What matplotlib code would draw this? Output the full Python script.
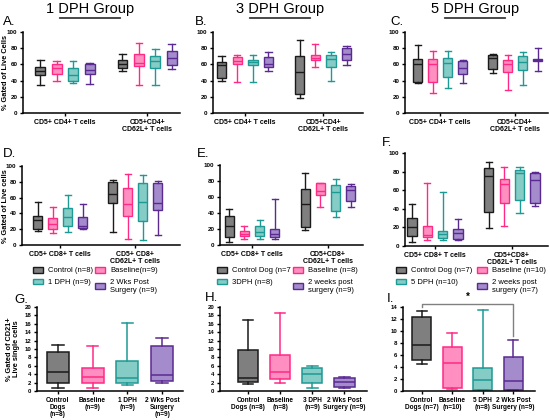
import matplotlib
matplotlib.use('Agg')
import matplotlib.pyplot as plt
from matplotlib.patches import Patch

plt.rcParams['font.family'] = ['Liberation Sans', 'DejaVu Sans']

# ---------------- data: [whisker low, Q1, median, Q3, whisker high] ----------------
groups = ['Control', 'Baseline', 'DPH', '2 Wks Post Surgery']

A_cd4 = [[34, 47, 52, 57, 65], [40, 48, 56, 61, 64], [37, 40, 47, 56, 64], [36, 48, 53, 61, 62]]
A_cd62 = [[52, 56, 61, 66, 73], [35, 58, 62, 73, 86], [35, 56, 64, 70, 79], [54, 59, 68, 76, 85]]
B_cd4 = [[39, 43, 59, 63, 70], [38, 60, 64, 69, 71], [38, 59, 63, 66, 72], [52, 57, 61, 69, 75]]
B_cd62 = [[19, 23, 51, 70, 90], [57, 65, 68, 72, 85], [39, 57, 67, 72, 75], [59, 66, 73, 80, 83]]
C_cd4 = [[37, 38, 60, 67, 84], [25, 38, 61, 67, 77], [31, 44, 62, 68, 77], [37, 48, 55, 64, 66]]
C_cd62 = [[50, 54, 68, 71, 73], [29, 51, 61, 65, 72], [35, 53, 63, 70, 75], [52, 64, 65, 67, 80]]
D_cd8 = [[18, 20, 32, 37, 55], [15, 20, 26, 34, 48], [17, 24, 35, 47, 63], [20, 21, 24, 36, 52]]
D_cd62 = [[16, 53, 65, 80, 82], [8, 37, 52, 72, 90], [6, 31, 55, 78, 89], [13, 44, 53, 78, 81]]
E_cd8 = [[4, 10, 24, 36, 45], [7, 11, 14, 18, 24], [7, 11, 16, 24, 31], [7, 10, 14, 20, 57]]
E_cd62 = [[19, 22, 51, 70, 90], [47, 62, 67, 77, 78], [35, 43, 66, 75, 83], [48, 55, 69, 74, 76]]
F_cd8 = [[4, 11, 20, 30, 45], [6, 10, 12, 21, 68], [6, 9, 13, 16, 58], [6, 8, 14, 18, 29]]
F_cd62 = [[19, 37, 75, 84, 90], [22, 46, 67, 72, 85], [36, 50, 79, 82, 85], [43, 46, 71, 79, 80]]
G_cd21 = [[0.8, 2.0, 4.5, 9.2, 11.0], [0.8, 1.8, 3.3, 5.4, 10.7], [1.4, 2.0, 3.0, 7.1, 16.1], [1.8, 2.4, 3.9, 10.6, 12.6]]
H_cd21 = [[1.7, 2.2, 3.0, 9.8, 16.8], [2.0, 2.8, 4.5, 8.5, 18.5], [0.6, 1.9, 4.0, 5.5, 5.9], [0.8, 0.9, 2.2, 3.1, 3.4]]
I_cd21 = [[4.5, 5.2, 7.7, 12.4, 13.3], [0.4, 0.5, 4.7, 7.3, 9.75], [0.1, 0.1, 1.8, 3.8, 13.5], [0.1, 0.1, 1.6, 5.7, 8.5]]

cat_cd4 = ['CD5+ CD4+ T cells', 'CD5+CD4+\nCD62L+ T cells']
cat_cd8_D = ['CD5+ CD8+ T cells', 'CD5+ CD8+\nCD62L+ T cells']
cat_cd8 = ['CD5+ CD8+ T cells', 'CD5+CD8+\nCD62L+ T cells']
G_labels = ['Control\nDogs\n(n=8)', 'Baseline\n(n=9)', '1 DPH\n(n=9)', '2 Wks Post\nSurgery\n(n=9)']
H_labels = ['Control\nDogs (n=8)', 'Baseline\n(n=8)', '3 DPH\n(n=9)', '2 Wks Post\nSurgery (n=9)']
I_labels = ['Control\nDogs (n=7)', 'Baseline\n(n=10)', '5 DPH\n(n=8)', '2 Wks Post\nSurgery (n=9)']

D_legend = ['Control (n=8)', 'Baseline(n=9)', '1 DPH (n=9)', '2 Wks Post\nSurgery (n=9)']
E_legend = ['Control Dog (n=7', 'Baseline (n=8)', '3DPH (n=8)', '2 weeks post\nsurgery (n=9)']
F_legend = ['Control Dog (n=7)', 'Baseline (n=10)', '5 DPH (n=10)', '2 weeks post\nsurgery (n=7)']

titles = ['1 DPH Group', '3 DPH Group', '5 DPH Group']

edge = ['#1a1a1a', '#ff2a86', '#1e9a94', '#5b2a90']
fill = ['#7f7f7f', '#ff8fc0', '#85cbc6', '#a48bcb']

W, H = 550, 420
fig = plt.figure(figsize=(5.5, 4.2), dpi=100)


def ax_px(l, r, t, b):
    return fig.add_axes([l / W, 1 - b / H, (r - l) / W, (b - t) / H])


def draw_box(ax, s, pos, c, width, capw, lw=1.0):
    st = dict(whislo=s[0], q1=s[1], med=s[2], q3=s[3], whishi=s[4], fliers=[])
    ax.bxp([st], positions=[pos], widths=width, capwidths=capw, patch_artist=True,
           showfliers=False, manage_ticks=False,
           boxprops=dict(facecolor=fill[c], edgecolor=edge[c], linewidth=lw),
           medianprops=dict(color=edge[c], linewidth=lw),
           whiskerprops=dict(color=edge[c], linewidth=lw),
           capprops=dict(color=edge[c], linewidth=lw))


def style(ax, ylim, yticks, ylabsize=4.5):
    ax.set_ylim(*ylim)
    ax.set_yticks(yticks, labels=[str(v) for v in yticks], fontsize=ylabsize, fontweight='bold')
    for s in ['top', 'right']:
        ax.spines[s].set_visible(False)
    for s in ['left', 'bottom']:
        ax.spines[s].set_linewidth(1.1)
    ax.tick_params(axis='both', width=1.0, length=2.5, pad=1.5)


offsets = [-0.3, -0.1, 0.1, 0.3]


def grouped_panel(rect, xlim, data1, data2, cats):
    ax = ax_px(*rect)
    for gi, data in enumerate([data1, data2]):
        for c, s in enumerate(data):
            draw_box(ax, s, gi + 1 + offsets[c], c, 0.12, 0.08)
    style(ax, (0, 100), [0, 20, 40, 60, 80, 100])
    ax.set_xlim(*xlim)
    ax.set_xticks([1, 2], labels=cats, fontsize=5, fontweight='bold', linespacing=1.1)
    return ax


axA = grouped_panel((23, 180, 32, 113), (0.49, 2.40), A_cd4, A_cd62, cat_cd4)
axB = grouped_panel((213, 363, 32, 113), (0.59, 2.51), B_cd4, B_cd62, cat_cd4)
axC = grouped_panel((405, 548, 32, 113), (0.53, 2.44), C_cd4, C_cd62, cat_cd4)
axD = grouped_panel((22, 180, 166, 245), (0.49, 2.6), D_cd8, D_cd62, cat_cd8_D)
axE = grouped_panel((220, 363, 165, 245), (0.58, 2.46), E_cd8, E_cd62, cat_cd8)
axF = grouped_panel((405, 548, 153, 246), (0.61, 2.47), F_cd8, F_cd62, cat_cd8)


def single_panel(rect, xlim, data, labels, ylim, yticks):
    ax = ax_px(*rect)
    for c, s in enumerate(data):
        draw_box(ax, s, c + 1, c, 0.63, 0.33, lw=1.1)
    style(ax, ylim, yticks, ylabsize=4.3)
    ax.set_xlim(*xlim)
    ax.set_xticks([1, 2, 3, 4], labels=labels, fontsize=4.7, fontweight='bold', linespacing=1.05)
    return ax


axG = single_panel((37, 183, 307, 391), (0.4, 4.6), G_cd21, G_labels, (0, 20), list(range(0, 21, 2)))
axH = single_panel((220, 367, 307, 391), (0.13, 4.7), H_cd21, H_labels, (0, 20), list(range(0, 21, 2)))
axI = single_panel((403, 535, 307, 391), (0.38, 4.72), I_cd21, I_labels, (0, 14), list(range(0, 15, 2)))

# significance bracket in I (Control vs 2 Wks)
top = max(I_cd21[0][4], I_cd21[3][4]) + 1.2
axI.plot([1, 1, 4, 4], [I_cd21[0][4] + 0.7, top, top, I_cd21[3][4] + 0.7],
         color='#808080', lw=1.0, clip_on=False)
axI.text(2.5, top + 0.3, '*', ha='center', va='bottom', fontsize=7, fontweight='bold', clip_on=False)


# y labels
def ylab(x, t, b, text, size=5.3):
    fig.text(x / W, 1 - (t + b) / 2 / H, text, rotation=90, ha='center', va='center',
             fontsize=size, fontweight='bold', linespacing=1.1)


ylab(6, 32, 113, '% Gated of Live Cells')
ylab(6, 168, 245, '% Gated of Live cells')
ylab(13, 307, 391, '% Gated of CD21+\nLive single cells')

# titles, underlined by drawing a segment under each title from the top-row axes
TITLE_SIZE = 10.5
for ax, cx, txt in zip([axA, axB, axC], [90, 280, 475], titles):
    fig.text(cx / W, 1 - 9 / H, txt, fontsize=TITLE_SIZE, ha='center', va='center')
    half = 0.38 * TITLE_SIZE * len(txt) * fig.dpi / 72 / 2
    ax.annotate('', xy=(cx + half, H - 18), xytext=(cx - half, H - 18),
                xycoords='figure pixels', textcoords='figure pixels',
                arrowprops=dict(arrowstyle='-', color='black', lw=1.0,
                                shrinkA=0, shrinkB=0),
                annotation_clip=False)

# panel letters
for x, y, L in [(3, 22, 'A.'), (195, 22, 'B.'), (390, 22, 'C.'),
                (3, 154, 'D.'), (197, 154, 'E.'), (382, 143, 'F.'),
                (14, 300, 'G.'), (205, 298, 'H.'), (387, 299, 'I.')]:
    fig.text(x / W, 1 - y / H, L, fontsize=9.5, ha='left', va='center')


# legends
def handle(c):
    return Patch(facecolor=fill[c], edgecolor=edge[c], linewidth=1.0)


def legend_col(x, y, labels, cols):
    fig.legend(handles=[handle(c) for c in cols], labels=labels, loc='upper left',
               bbox_to_anchor=(x / W, 1 - y / H), frameon=False, fontsize=5.5,
               handlelength=1.25, handleheight=0.75, handletextpad=0.7,
               labelspacing=0.55, borderpad=0, borderaxespad=0)


for (x1, x2, labs) in [(33, 95, D_legend), (217, 293, E_legend), (396, 477, F_legend)]:
    legend_col(x1, 267, [labs[0], labs[2]], [0, 2])
    legend_col(x2, 267, [labs[1], labs[3]], [1, 3])

fig.savefig('out.png', dpi=100)
